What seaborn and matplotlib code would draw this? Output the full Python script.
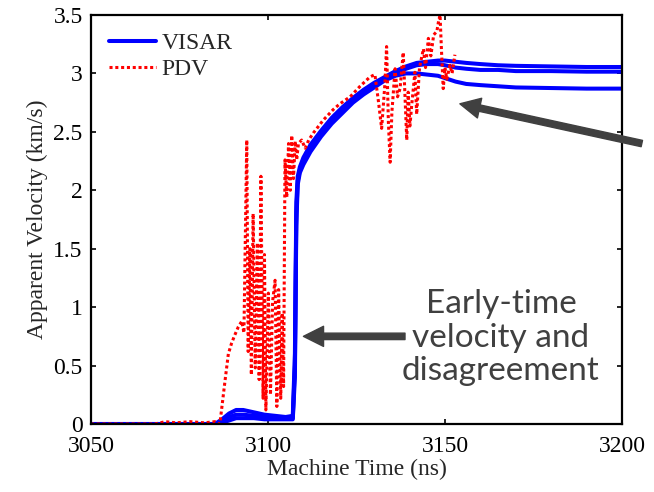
import numpy as np
import pandas as pd
import matplotlib
matplotlib.use('Agg')
import matplotlib.pyplot as plt
from matplotlib.lines import Line2D
import seaborn as sns

# VISAR : trois sondes sur une base de temps commune (ns, km/s)
visar_t = [3050, 3085, 3087, 3089, 3091, 3093, 3096, 3099, 3102, 3105, 3107,
           3107.6, 3108.0, 3108.4, 3109, 3110, 3112, 3115, 3118, 3121, 3124,
           3127, 3130, 3133, 3136, 3139, 3142, 3145, 3148, 3150, 3153, 3156,
           3160, 3165, 3170, 3180, 3190, 3200]
visar_1 = [0.0, 0.0, 0.04, 0.09, 0.12, 0.12, 0.10, 0.08, 0.07, 0.06, 0.07,
           0.6, 1.9, 2.12, 2.2, 2.28, 2.39, 2.51, 2.62, 2.71, 2.79,
           2.86, 2.92, 2.97, 3.02, 3.06, 3.09, 3.10, 3.11, 3.11, 3.10, 3.09,
           3.08, 3.07, 3.065, 3.06, 3.055, 3.055]
visar_2 = [0.0, 0.0, 0.02, 0.06, 0.08, 0.08, 0.07, 0.06, 0.05, 0.05, 0.05,
           0.5, 1.8, 2.08, 2.17, 2.24, 2.35, 2.48, 2.59, 2.68, 2.76,
           2.83, 2.89, 2.95, 3.00, 3.04, 3.07, 3.08, 3.08, 3.07, 3.05, 3.04,
           3.03, 3.03, 3.02, 3.02, 3.015, 3.015]
visar_3 = [0.0, 0.0, 0.01, 0.03, 0.05, 0.05, 0.05, 0.04, 0.04, 0.04, 0.04,
           0.4, 1.7, 2.05, 2.15, 2.22, 2.33, 2.46, 2.57, 2.66, 2.75,
           2.82, 2.88, 2.94, 2.98, 3.00, 3.00, 2.99, 2.98, 2.96, 2.93, 2.91,
           2.90, 2.89, 2.88, 2.875, 2.87, 2.87]

# PDV : une trace bruitée
pdv_t = [3050, 3060, 3068, 3071, 3074, 3078, 3082, 3085, 3086.4, 3087.9,
         3088.8, 3089.7, 3090.6, 3091.6, 3092.6, 3093.2, 3094.0, 3094.4,
         3094.9, 3095.3, 3095.8, 3096.4, 3097.0, 3097.5, 3098.0, 3098.6,
         3099.0, 3099.4, 3100.1, 3100.7, 3101.3, 3102.0, 3102.5, 3103.0,
         3103.6, 3104.0, 3104.4, 3104.8, 3105.3, 3105.8, 3106.3, 3106.7,
         3107.2, 3107.7, 3108.1, 3108.6, 3109.5, 3110.5, 3111.5, 3112.8,
         3115.6, 3118.4, 3120.3, 3123.2, 3126.0, 3128.8, 3130.2, 3131.2,
         3132.1, 3133.0, 3133.5, 3134.0, 3134.5, 3135.0, 3135.9, 3136.6,
         3137.3, 3138.2, 3139.2, 3139.6, 3140.1, 3140.6, 3141.5, 3142.0,
         3142.8, 3143.9, 3144.5, 3145.3, 3146.0, 3146.8, 3147.7, 3148.2,
         3148.6, 3149.0, 3149.5, 3150.0, 3150.5, 3151.4, 3152.0, 3152.8]
pdv_v = [0.0, 0.0, 0.0, 0.02, 0.01, 0.02, 0.01, 0.02, 0.0, 0.38,
         0.60, 0.69, 0.76, 0.83, 0.88, 0.78, 2.43, 0.62,
         1.50, 0.42, 1.80, 0.48, 1.55, 0.38, 2.12, 0.22,
         1.45, 0.12, 1.12, 0.25, 1.05, 1.23, 0.15, 1.15,
         0.22, 0.95, 0.32, 2.26, 1.94, 2.40, 2.00, 2.47,
         2.10, 2.42, 2.26, 2.40, 2.43, 2.36, 2.43, 2.49,
         2.60, 2.69, 2.74, 2.80, 2.89, 2.97, 2.99, 2.76,
         2.53, 2.90, 3.23, 2.59, 2.24, 2.67, 3.04, 2.80,
         2.87, 3.18, 2.43, 2.84, 2.55, 2.73, 3.01, 2.65,
         3.05, 3.21, 3.05, 3.30, 3.15, 3.33, 3.36, 3.45,
         3.50, 3.20, 2.87, 3.05, 2.95, 3.07, 3.00, 3.16]

x_ticks = [3050, 3100, 3150, 3200]
x_tick_labels = ['3050', '3100', '3150', '3200']
y_ticks = [0, 0.5, 1, 1.5, 2, 2.5, 3, 3.5]
y_tick_labels = ['0', '0.5', '1', '1.5', '2', '2.5', '3', '3.5']

visar_df = pd.DataFrame({
    't': visar_t * 3,
    'v': visar_1 + visar_2 + visar_3,
    'sonde': [1] * len(visar_t) + [2] * len(visar_t) + [3] * len(visar_t),
})

SERIF = ['Liberation Serif', 'DejaVu Serif']

sns.set_style('ticks')
plt.rcParams['font.family'] = SERIF

fig = plt.figure(figsize=(6.54, 4.92), dpi=100)
ax = fig.add_axes([91 / 654, 68 / 492, 531 / 654, 409 / 492])

sns.lineplot(data=visar_df, x='t', y='v', units='sonde', estimator=None,
             color='#0000ff', lw=2.9, ax=ax, legend=False)
sns.lineplot(x=pdv_t, y=pdv_v, estimator=None, color='#ff0000', lw=2.2,
             linestyle=(0, (1, 0.9)), ax=ax, legend=False)

ax.set_xlim(3050, 3200)
ax.set_ylim(0, 3.5)
ax.set_xticks(x_ticks)
ax.set_xticklabels(x_tick_labels, family=SERIF, fontsize=17)
ax.set_yticks(y_ticks)
ax.set_yticklabels(y_tick_labels, family=SERIF, fontsize=17)
ax.tick_params(direction='in', length=3.6, width=1.2, top=True, right=True,
               colors='black', pad=6)
ax.tick_params(axis='x', pad=9)
for s in ax.spines.values():
    s.set_linewidth(1.6)
    s.set_color('black')
ax.set_xlabel('Machine Time (ns)', fontsize=17, labelpad=1, family=SERIF)
ax.set_ylabel('Apparent Velocity (km/s)', fontsize=17, labelpad=4, family=SERIF)

handles = [Line2D([], [], color='#0000ff', lw=2.9),
           Line2D([], [], color='#ff0000', lw=2.2, linestyle=(0, (1, 0.9)))]
ax.legend(handles, ['VISAR', 'PDV'], loc='upper left', frameon=False,
          prop={'family': SERIF, 'size': 17}, handlelength=2.0,
          handletextpad=0.25, labelspacing=0.2, borderaxespad=0.35,
          bbox_to_anchor=(0.0, 1.0))

# flèches et commentaire
arrow = dict(arrowstyle='simple,head_length=1,head_width=1,tail_width=0.32',
             color='#404040', mutation_scale=14.5, shrinkA=0, shrinkB=0)
ax.annotate('', xy=(3110.0, 0.75), xytext=(3138.7, 0.75),
            arrowprops=arrow, annotation_clip=False)
ax.annotate('', xy=(3154.2, 2.74), xytext=(3205.6, 2.40),
            arrowprops=arrow, annotation_clip=False)
ax.text(3165.8, 0.74, 'Early-time\nvelocity and\ndisagreement',
        ha='center', va='center', fontsize=24, color='#404040',
        family=['Lato', 'DejaVu Sans'], linespacing=1.15)

fig.savefig('out.png', dpi=100)
